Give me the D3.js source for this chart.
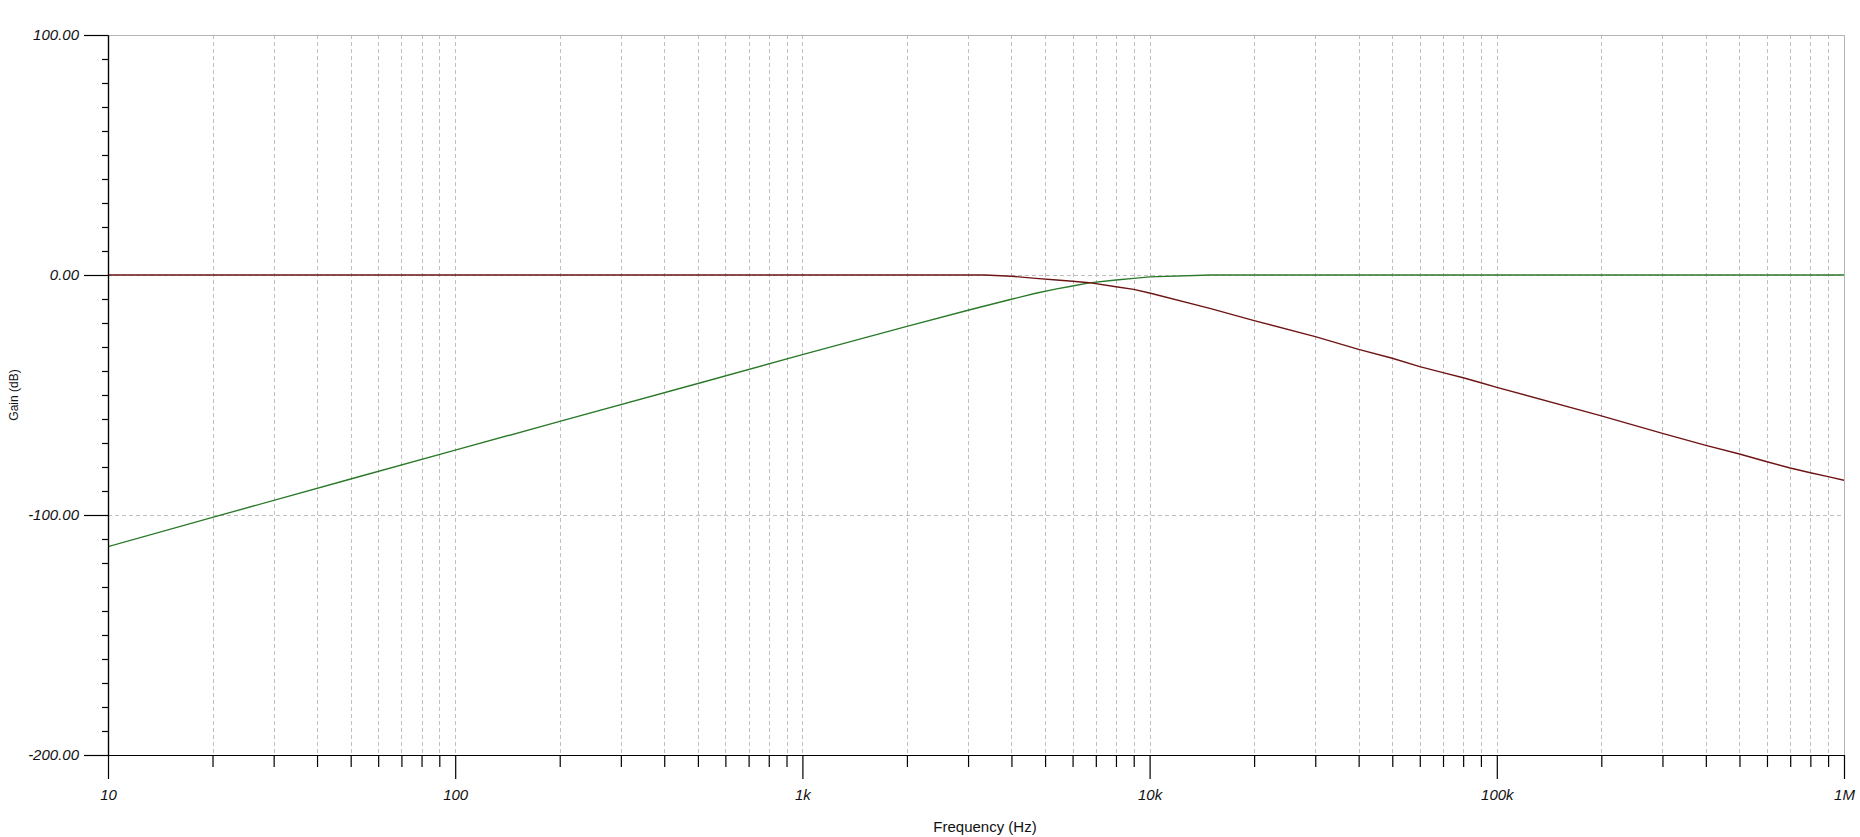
<!DOCTYPE html>
<html>
<head>
<meta charset="utf-8">
<script src="https://cdn.jsdelivr.net/npm/d3@7/dist/d3.min.js"></script>
<style>
  html, body { margin: 0; padding: 0; background: #ffffff; }
  svg { display: block; font-family: "Liberation Sans", Arial, sans-serif; }
</style>
</head>
<body>
<svg id="chart" width="1860" height="837"></svg>
<script>
// ---- data ----
const freqs = [10, 20, 50, 100, 200, 500, 1000, 2000, 3000, 3350, 4000, 4700, 5400, 6000, 6700, 8000, 9000, 10000, 15000, 20000, 30000, 40000, 50000, 60000, 70000, 80000, 90000, 100000, 200000, 300000, 400000, 500000, 600000, 700000, 800000, 900000, 1000000];
const highPassGain = [-113.2, -101.0, -85.0, -73.0, -61.0, -45.2, -33.2, -21.4, -14.7, -12.9, -10.1, -7.6, -5.8, -4.6, -3.3, -2.1, -1.4, -0.8, 0, 0, 0, 0, 0, 0, 0, 0, 0, 0, 0, 0, 0, 0, 0, 0, 0, 0, 0];
const lowPassGain = [0, 0, 0, 0, 0, 0, 0, 0, 0, 0, -0.5, -1.4, -2.1, -2.6, -3.2, -4.9, -6.0, -7.5, -14.0, -19.0, -25.7, -31.0, -34.7, -38.2, -40.7, -42.8, -44.9, -46.8, -58.7, -66.0, -71.0, -74.6, -77.8, -80.4, -82.4, -84.0, -85.5];
const xMajorTicks = [10, 100, 1000, 10000, 100000, 1000000];
const xMajorLabels = ["10", "100", "1k", "10k", "100k", "1M"];
const yMajorTicks = [100, 0, -100, -200];
const yMinorTicks = [90, 80, 70, 60, 50, 40, 30, 20, 10, -10, -20, -30, -40, -50, -60, -70, -80, -90, -110, -120, -130, -140, -150, -160, -170, -180, -190];
const xMinorMultipliers = [2, 3, 4, 5, 6, 7, 8, 9];
const xTitle = "Frequency (Hz)";
const yTitle = "Gain (dB)";

// ---- layout ----
const pLeft = 108, pRight = 1844, pTop = 35, pBottom = 755;
const svg = d3.select("#chart");
const x = d3.scaleLog().domain([10, 1e6]).range([pLeft, pRight]);
const y = d3.scaleLinear().domain([-200, 100]).range([pBottom, pTop]);

const xMinorTicks = [];
xMajorTicks.slice(0, -1).forEach(d => xMinorMultipliers.forEach(m => xMinorTicks.push(d * m)));

const gridColor = "#bfbfbf";
const grid = svg.append("g");
// vertical dashed grid
grid.selectAll("line.v").data(xMinorTicks.concat(xMajorTicks.slice(1, -1))).enter().append("line")
  .attr("x1", d => Math.round(x(d)) + 0.5).attr("x2", d => Math.round(x(d)) + 0.5)
  .attr("y1", pTop).attr("y2", pBottom)
  .attr("stroke", gridColor).attr("stroke-width", 1).attr("stroke-dasharray", "4,3");
// horizontal dashed grid
grid.selectAll("line.h").data([0, -100]).enter().append("line")
  .attr("x1", pLeft).attr("x2", pRight)
  .attr("y1", d => Math.round(y(d)) + 0.5).attr("y2", d => Math.round(y(d)) + 0.5)
  .attr("stroke", gridColor).attr("stroke-width", 1).attr("stroke-dasharray", "4,3");
// top and right frame
grid.append("line").attr("x1", pLeft).attr("x2", pRight).attr("y1", pTop + 0.5).attr("y2", pTop + 0.5)
  .attr("stroke", "#b4b4b4").attr("stroke-width", 1);
grid.append("line").attr("x1", pRight + 0.5).attr("x2", pRight + 0.5).attr("y1", pTop).attr("y2", pBottom)
  .attr("stroke", "#b4b4b4").attr("stroke-width", 1);

// ---- curves ----
svg.append("clipPath").attr("id", "clip").append("rect")
  .attr("x", pLeft).attr("y", pTop).attr("width", pRight - pLeft).attr("height", pBottom - pTop);
const line = d3.line().x(d => x(d[0])).y(d => y(d[1]));
const curves = svg.append("g").attr("clip-path", "url(#clip)");
curves.append("path").datum(freqs.map((f, i) => [f, highPassGain[i]]))
  .attr("d", line).attr("fill", "none").attr("stroke", "#2b7a2b").attr("stroke-width", 1.4);
curves.append("path").datum(freqs.map((f, i) => [f, lowPassGain[i]]))
  .attr("d", line).attr("fill", "none").attr("stroke", "#6e1414").attr("stroke-width", 1.4);

// ---- axes ----
const labelFor = d => xMajorLabels[xMajorTicks.indexOf(d)];
const xAxisMinor = d3.axisBottom(x).tickValues(xMinorTicks).tickSize(12).tickSizeOuter(0).tickFormat("");
const xAxisMajor = d3.axisBottom(x).tickValues(xMajorTicks).tickSize(24).tickSizeOuter(0).tickPadding(10).tickFormat(labelFor);
const yAxisMinor = d3.axisLeft(y).tickValues(yMinorTicks).tickSize(6).tickSizeOuter(0).tickFormat("");
const yAxisMajor = d3.axisLeft(y).tickValues(yMajorTicks).tickSize(24).tickSizeOuter(0).tickPadding(5).tickFormat(d => d.toFixed(2));

function styleAxis(g) {
  g.select(".domain").attr("stroke", "#000").attr("stroke-width", 1.2);
  g.selectAll(".tick line").attr("stroke", "#000").attr("stroke-width", 1.2);
  g.selectAll(".tick text").attr("fill", "#111").attr("font-size", 15).attr("font-style", "italic")
    .attr("font-family", "'Liberation Sans', Arial, sans-serif");
}
svg.append("g").attr("transform", `translate(0,${pBottom})`).call(xAxisMinor).call(styleAxis);
svg.append("g").attr("transform", `translate(0,${pBottom})`).call(xAxisMajor).call(styleAxis);
svg.append("g").attr("transform", `translate(${pLeft},0)`).call(yAxisMinor).call(styleAxis);
svg.append("g").attr("transform", `translate(${pLeft},0)`).call(yAxisMajor).call(styleAxis);

// ---- titles ----
svg.append("text").attr("x", 985).attr("y", 832).attr("text-anchor", "middle")
  .attr("font-size", 15).attr("fill", "#111").text(xTitle);
svg.append("text").attr("transform", `translate(18,${(pTop + pBottom) / 2}) rotate(-90)`)
  .attr("text-anchor", "middle").attr("font-size", 12).attr("fill", "#111").text(yTitle);
</script>
</body>
</html>
